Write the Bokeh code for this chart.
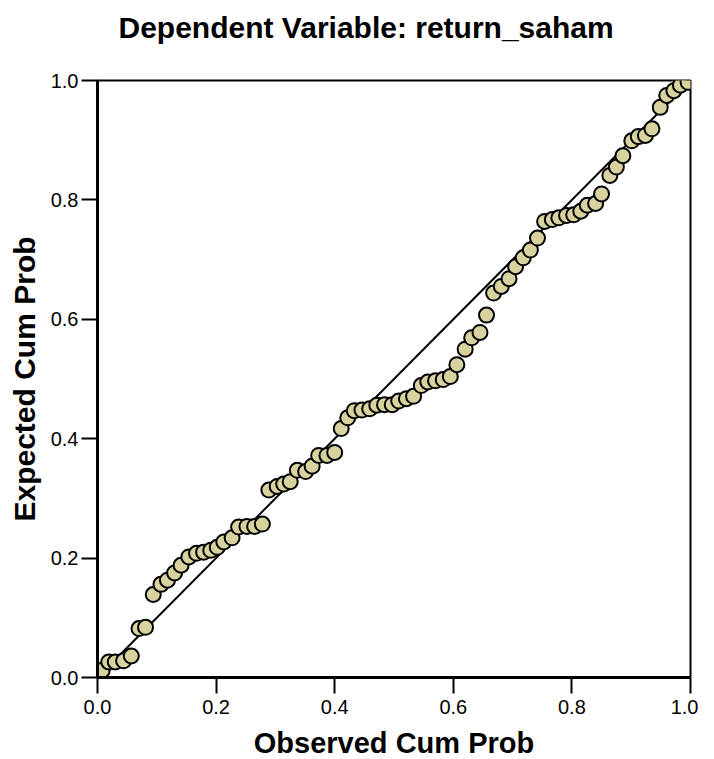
from bokeh.plotting import figure
from bokeh.models import Range1d, FixedTicker, Title
from bokeh.embed import file_html
from bokeh.resources import INLINE

# Observed cumulative probability (x) and expected cumulative probability (y)
observed_cum_prob = [
    0.008, 0.019, 0.030, 0.044, 0.057, 0.070, 0.081, 0.094, 0.107, 0.118,
    0.130, 0.141, 0.154, 0.167, 0.179, 0.191, 0.202, 0.213, 0.227, 0.238,
    0.252, 0.265, 0.278, 0.289, 0.303, 0.314, 0.325, 0.337, 0.351, 0.362,
    0.373, 0.387, 0.400, 0.411, 0.422, 0.433, 0.446, 0.459, 0.471, 0.484,
    0.497, 0.508, 0.521, 0.533, 0.546, 0.557, 0.570, 0.583, 0.595, 0.606,
    0.620, 0.631, 0.645, 0.656, 0.668, 0.681, 0.694, 0.705, 0.718, 0.730,
    0.742, 0.754, 0.767, 0.778, 0.791, 0.803, 0.815, 0.826, 0.840, 0.850,
    0.864, 0.875, 0.886, 0.901, 0.912, 0.924, 0.935, 0.949, 0.960, 0.972,
    0.983, 0.996,
]
expected_cum_prob = [
    0.012, 0.026, 0.026, 0.028, 0.036, 0.082, 0.084, 0.139, 0.156, 0.163,
    0.175, 0.188, 0.202, 0.208, 0.210, 0.213, 0.218, 0.227, 0.234, 0.252,
    0.253, 0.253, 0.257, 0.314, 0.320, 0.324, 0.328, 0.347, 0.345, 0.354,
    0.372, 0.372, 0.377, 0.417, 0.435, 0.447, 0.448, 0.450, 0.456, 0.457,
    0.457, 0.463, 0.467, 0.471, 0.489, 0.495, 0.497, 0.499, 0.504, 0.524,
    0.550, 0.569, 0.578, 0.607, 0.644, 0.655, 0.668, 0.688, 0.703, 0.716,
    0.736, 0.764, 0.767, 0.770, 0.774, 0.775, 0.781, 0.791, 0.794, 0.810,
    0.841, 0.855, 0.874, 0.899, 0.906, 0.908, 0.919, 0.955, 0.975, 0.983,
    0.992, 0.997,
]
ref_line_x = [0.0, 1.0]
ref_line_y = [0.0, 1.0]
tick_values = [0.0, 0.2, 0.4, 0.6, 0.8, 1.0]
tick_labels = {0.0: "0.0", 0.2: "0.2", 0.4: "0.4", 0.6: "0.6", 0.8: "0.8", 1.0: "1.0"}
title_text = "Dependent Variable: return_saham"

FONT = "Liberation Sans"

p = figure(frame_width=593, frame_height=597, output_backend="svg", toolbar_location=None,
           x_range=Range1d(0, 1), y_range=Range1d(0, 1),
           min_border_left=97, min_border_right=8, min_border_top=80, min_border_bottom=74)

# spacer (closest to the frame) then the real title above it
p.add_layout(Title(text=" ", text_font=FONT, text_font_size="10px", standoff=24), "above")
p.add_layout(Title(text=title_text, align="left", offset=21, standoff=0,
                   text_font=FONT, text_font_size="30px", text_font_style="bold",
                   text_color="black"), "above")

p.xgrid.visible = False
p.ygrid.visible = False
p.outline_line_color = "black"
p.outline_line_width = 2
p.background_fill_color = "white"
p.border_fill_color = "white"

for ax in (p.xaxis[0], p.yaxis[0]):
    ax.ticker = FixedTicker(ticks=tick_values)
    ax.major_label_overrides = tick_labels
    ax.axis_line_color = "black"
    ax.axis_line_width = 3
    ax.major_tick_line_color = "black"
    ax.major_tick_line_width = 2
    ax.major_tick_out = 16
    ax.major_tick_in = 0
    ax.minor_tick_line_color = None
    ax.major_label_text_font = FONT
    ax.major_label_text_font_size = "20px"
    ax.major_label_text_color = "black"
    ax.axis_label_text_font = FONT
    ax.axis_label_text_font_style = "bold"
    ax.axis_label_text_color = "black"

p.xaxis.axis_label = "Observed Cum Prob"
p.yaxis.axis_label = "Expected Cum Prob"
p.xaxis.axis_label_text_font_size = "29px"
p.yaxis.axis_label_text_font_size = "30px"
p.xaxis.major_label_standoff = 6
p.yaxis.major_label_standoff = 3
p.xaxis.axis_label_standoff = 10
p.yaxis.axis_label_standoff = 7

p.line(ref_line_x, ref_line_y, line_color="black", line_width=2)
p.scatter(observed_cum_prob, expected_cum_prob, size=15, marker="circle",
          fill_color="#d7d29e", line_color="black", line_width=2)

open("out.html", "w").write(file_html(p, INLINE))
